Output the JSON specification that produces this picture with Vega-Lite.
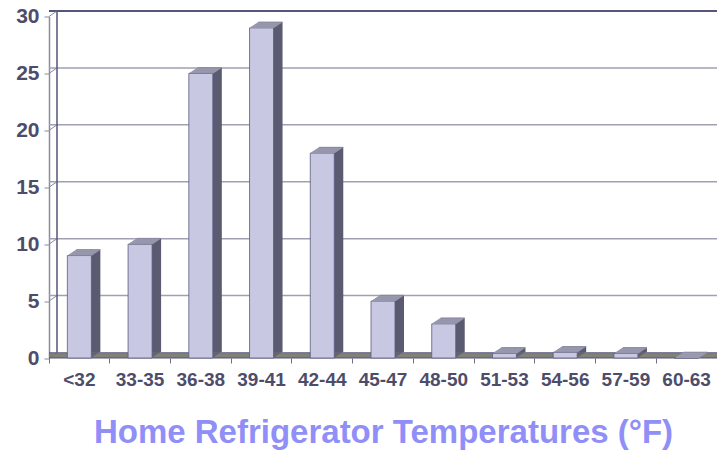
{
  "$schema": "https://vega.github.io/schema/vega-lite/v6.json",
  "autosize": {"type": "none"},
  "width": 668,
  "height": 341.5,
  "padding": {"left": 49, "top": 16.5, "right": 0, "bottom": 94},
  "background": "white",
  "datasets": {
    "bins": [
      {"range": "<32", "share": 9},
      {"range": "33-35", "share": 10},
      {"range": "36-38", "share": 25},
      {"range": "39-41", "share": 29},
      {"range": "42-44", "share": 18},
      {"range": "45-47", "share": 5},
      {"range": "48-50", "share": 3},
      {"range": "51-53", "share": 0.4},
      {"range": "54-56", "share": 0.5},
      {"range": "57-59", "share": 0.4},
      {"range": "60-63", "share": 0}
    ],
    "grid": [{"t": 5}, {"t": 10}, {"t": 15}, {"t": 20}, {"t": 25}],
    "ticks": [{"t": 0}, {"t": 5}, {"t": 10}, {"t": 15}, {"t": 20}, {"t": 25}, {"t": 30}]
  },
  "config": {
    "view": {"stroke": null},
    "font": "Liberation Sans",
    "axisX": {
      "domain": false,
      "grid": false,
      "tickSize": 5,
      "tickColor": "#6e6e8c",
      "tickWidth": 1,
      "labelAngle": 0,
      "labelFontWeight": "bold",
      "labelFontSize": 19,
      "labelColor": "#4d4d6b",
      "labelPadding": 7,
      "titleFontSize": 33,
      "titleFontWeight": "bold",
      "titleColor": "#8f8ff7",
      "titlePadding": 27
    },
    "axisY": {
      "grid": false,
      "domainColor": "#8a8aa4",
      "domainWidth": 1.5,
      "tickColor": "#8a8aa4",
      "tickSize": 5,
      "labelFontWeight": "bold",
      "labelFontSize": 21,
      "labelColor": "#4d4d6b",
      "labelPadding": 5
    }
  },
  "layer": [
    {
      "data": {"name": "grid"},
      "mark": {"type": "rule", "color": "#a0a0b2", "strokeWidth": 1.5, "yOffset": -5.5, "xOffset": 8, "x2Offset": 8},
      "encoding": {
        "y": {"field": "t", "type": "quantitative", "scale": {"domain": [0, 30], "nice": false}, "axis": {"title": null, "values": [0, 5, 10, 15, 20, 25, 30]}}
      }
    },
    {
      "data": {"name": "ticks"},
      "transform": [{"filter": "datum.t == 30"}],
      "mark": {"type": "rule", "color": "#55557a", "strokeWidth": 2, "yOffset": -5.5, "xOffset": 8, "x2Offset": 8},
      "encoding": {
        "y": {"field": "t", "type": "quantitative", "axis": {"title": null, "values": [0, 5, 10, 15, 20, 25, 30]}}
      }
    },
    {
      "data": {"name": "ticks"},
      "mark": {"type": "rule", "color": "#8a8aa4", "strokeWidth": 1, "y2Offset": -5.5, "x2Offset": 8},
      "encoding": {
        "x": {"datum": "<32", "type": "nominal", "bandPosition": 0, "axis": {"bandPosition": 0, "title": "Home Refrigerator Temperatures (°F)"}},
        "x2": {"datum": "<32", "bandPosition": 0},
        "y": {"field": "t", "type": "quantitative", "axis": {"title": null, "values": [0, 5, 10, 15, 20, 25, 30]}},
        "y2": {"field": "t"}
      }
    },
    {
      "data": {"name": "ticks"},
      "transform": [{"filter": "datum.t == 0"}],
      "mark": {"type": "rule", "color": "#55557a", "strokeWidth": 1.5, "xOffset": 8, "yOffset": -5.5, "y2Offset": -5.5},
      "encoding": {
        "x": {"datum": "<32", "type": "nominal", "bandPosition": 0, "axis": {"bandPosition": 0, "title": "Home Refrigerator Temperatures (°F)"}},
        "y": {"datum": 0, "type": "quantitative", "axis": {"title": null, "values": [0, 5, 10, 15, 20, 25, 30]}},
        "y2": {"datum": 30}
      }
    },
    {
      "data": {"name": "ticks"},
      "transform": [{"filter": "datum.t == 0"}],
      "encoding": {
        "y": {"field": "t", "type": "quantitative", "axis": {"title": null, "values": [0, 5, 10, 15, 20, 25, 30]}}
      },
      "layer": [
        {"mark": {"type": "rule", "color": "#78786e", "strokeWidth": 1.3, "yOffset": -1, "xOffset": 1.5, "x2Offset": 1.5}},
        {"mark": {"type": "rule", "color": "#78786e", "strokeWidth": 1.3, "yOffset": -2, "xOffset": 2.9, "x2Offset": 2.9}},
        {"mark": {"type": "rule", "color": "#78786e", "strokeWidth": 1.3, "yOffset": -3, "xOffset": 4.4, "x2Offset": 4.4}},
        {"mark": {"type": "rule", "color": "#78786e", "strokeWidth": 1.3, "yOffset": -4, "xOffset": 5.8, "x2Offset": 5.8}},
        {"mark": {"type": "rule", "color": "#55557a", "strokeWidth": 1.2, "yOffset": -5.2, "xOffset": 7.6, "x2Offset": 7.6}},
        {"mark": {"type": "rule", "color": "#55557a", "strokeWidth": 1.2, "yOffset": -0.2}}
      ]
    },
    {
      "data": {"name": "bins"},
      "encoding": {
        "x": {
          "field": "range",
          "type": "nominal",
          "sort": null,
          "scale": {"paddingInner": 0, "paddingOuter": 0},
          "axis": {"bandPosition": 0, "title": "Home Refrigerator Temperatures (°F)"}
        },
        "y": {
          "field": "share",
          "type": "quantitative",
          "scale": {"domain": [0, 30], "nice": false},
          "axis": {"title": null, "values": [0, 5, 10, 15, 20, 25, 30]}
        }
      },
      "layer": [
        {"mark": {"type": "bar", "width": 24, "color": "#636374", "xOffset": 1, "yOffset": -0.667, "y2Offset": -0.667}},
        {"mark": {"type": "bar", "width": 24, "color": "#636374", "xOffset": 2, "yOffset": -1.333, "y2Offset": -1.333}},
        {"mark": {"type": "bar", "width": 24, "color": "#636374", "xOffset": 3, "yOffset": -2, "y2Offset": -2}},
        {"mark": {"type": "bar", "width": 24, "color": "#636374", "xOffset": 4, "yOffset": -2.667, "y2Offset": -2.667}},
        {"mark": {"type": "bar", "width": 24, "color": "#636374", "xOffset": 5, "yOffset": -3.333, "y2Offset": -3.333}},
        {"mark": {"type": "bar", "width": 24, "color": "#636374", "xOffset": 6, "yOffset": -4, "y2Offset": -4}},
        {"mark": {"type": "bar", "width": 24, "color": "#636374", "xOffset": 7, "yOffset": -4.667, "y2Offset": -4.667}},
        {"mark": {"type": "bar", "width": 24, "color": "#636374", "xOffset": 8, "yOffset": -5.333, "y2Offset": -5.333}},
        {"mark": {"type": "bar", "width": 24, "color": "#5a5a70", "xOffset": 9, "yOffset": -6, "y2Offset": -6}},
        {"mark": {"type": "bar", "width": 24, "fill": "#c8c8e2", "stroke": "#5a5a80", "strokeWidth": 0.8}},
        {"mark": {"type": "bar", "width": 24, "color": "#9c9cb2", "xOffset": 1, "yOffset": -0.967, "y2Offset": 0}, "encoding": {"y2": {"field": "share"}}},
        {"mark": {"type": "bar", "width": 24, "color": "#9c9cb2", "xOffset": 2, "yOffset": -1.633, "y2Offset": -0.667}, "encoding": {"y2": {"field": "share"}}},
        {"mark": {"type": "bar", "width": 24, "color": "#9c9cb2", "xOffset": 3, "yOffset": -2.3, "y2Offset": -1.333}, "encoding": {"y2": {"field": "share"}}},
        {"mark": {"type": "bar", "width": 24, "color": "#9c9cb2", "xOffset": 4, "yOffset": -2.967, "y2Offset": -2}, "encoding": {"y2": {"field": "share"}}},
        {"mark": {"type": "bar", "width": 24, "color": "#9c9cb2", "xOffset": 5, "yOffset": -3.633, "y2Offset": -2.667}, "encoding": {"y2": {"field": "share"}}},
        {"mark": {"type": "bar", "width": 24, "color": "#9c9cb2", "xOffset": 6, "yOffset": -4.3, "y2Offset": -3.333}, "encoding": {"y2": {"field": "share"}}},
        {"mark": {"type": "bar", "width": 24, "color": "#9c9cb2", "xOffset": 7, "yOffset": -4.967, "y2Offset": -4}, "encoding": {"y2": {"field": "share"}}},
        {"mark": {"type": "bar", "width": 24, "color": "#9c9cb2", "xOffset": 8, "yOffset": -5.633, "y2Offset": -4.667}, "encoding": {"y2": {"field": "share"}}},
        {"mark": {"type": "bar", "width": 24, "color": "#8e8ea6", "xOffset": 9, "yOffset": -6.3, "y2Offset": -5.333}, "encoding": {"y2": {"field": "share"}}}
      ]
    }
  ]
}
